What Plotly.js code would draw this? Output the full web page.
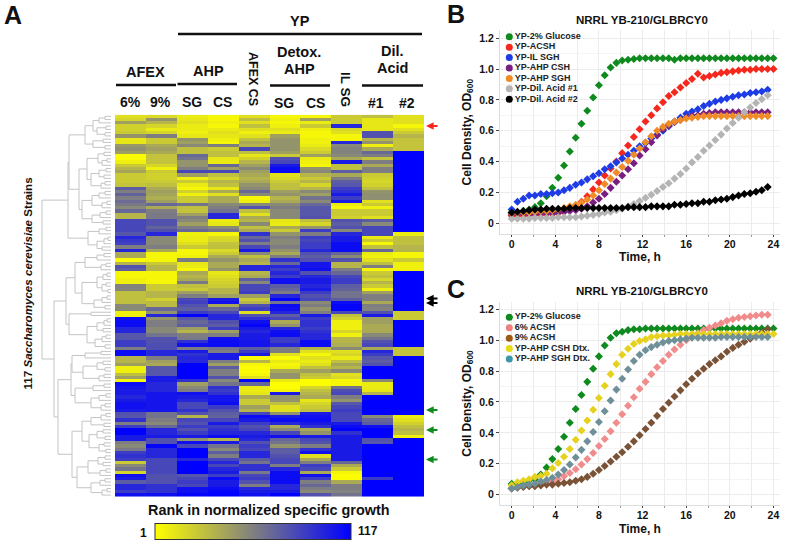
<!DOCTYPE html>
<html>
<head>
<meta charset="utf-8">
<script src="https://cdn.plot.ly/plotly-3.0.1.min.js"></script>
<style>
  html, body { margin: 0; padding: 0; background: #fff; }
  #chart { width: 788px; height: 543px; }
</style>
</head>
<body>
<div id="chart"></div>
<script>
// heatmap: rank of each strain (rows, clustered order) per condition
const conditions = ["AFEX 6%", "AFEX 9%", "AHP SG", "AHP CS", "AFEX CS", "Detox SG", "Detox CS", "IL SG", "Dil #1", "Dil #2"];

const afex6 = [15,20,45,22,22,25,50,12,12,48,
  52,45,3,3,8,25,35,42,25,25,
  25,28,75,60,72,60,68,62,55,70,
  35,35,85,85,85,85,78,100,92,88,
  60,100,40,40,3,35,80,75,5,5,
  8,8,58,58,30,30,30,30,55,55,
  8,8,112,112,112,100,100,78,78,90,
  90,60,112,112,35,35,45,8,8,30,
  45,5,112,108,105,105,100,105,110,110,
  105,80,78,95,60,90,117,117,105,105,
  60,55,62,90,95,90,25,55,65,20,
  110,105,75,100,100,90,110];
const afex9 = [18,50,35,20,10,20,60,25,25,40,
  45,40,28,28,28,20,8,25,22,22,
  25,30,40,45,42,38,45,70,40,60,
  62,62,80,80,72,80,100,55,55,55,
  60,40,5,5,5,25,35,35,5,5,
  5,5,25,25,35,35,22,32,32,70,
  50,100,50,60,60,55,55,65,80,80,
  82,82,100,100,60,45,40,78,78,78,
  105,105,100,100,100,108,108,108,108,108,
  108,65,65,60,55,70,100,100,105,80,
  80,115,100,100,100,85,85,85,85,85,
  80,80,80,95,95,95,110];
const ahpSg = [10,12,15,10,10,8,12,50,45,55,
  30,30,70,65,50,50,60,85,45,8,
  25,10,5,22,8,25,25,65,30,28,
  45,60,55,45,60,70,8,10,10,15,
  25,5,5,8,62,12,10,5,40,35,
  40,62,30,25,45,60,85,88,80,75,
  90,117,78,70,75,45,35,60,62,95,
  110,60,105,95,100,100,117,117,117,117,
  117,95,45,55,60,110,105,100,85,85,
  95,80,35,85,80,90,80,90,105,50,
  110,85,117,117,117,100,117,117,117,117,
  78,85,90,85,110,110,115];
const ahpCs = [5,5,8,5,10,15,12,8,5,60,
  25,30,30,12,10,70,45,85,30,20,
  35,30,12,40,15,40,40,55,60,65,
  100,100,10,12,55,65,5,18,20,28,
  30,18,25,40,50,40,40,50,12,15,
  20,22,25,35,35,45,105,110,40,70,
  85,100,100,80,75,90,45,60,110,112,
  112,65,60,105,105,60,45,75,60,60,
  80,55,65,95,90,95,108,108,112,90,
  80,75,72,85,105,90,95,100,112,35,
  105,65,55,75,60,85,100,85,100,105,
  90,112,105,105,112,115,117];
const afexCs = [15,30,15,30,15,8,15,30,40,35,
  85,30,12,22,35,45,55,45,40,35,
  40,50,55,70,55,5,8,55,80,30,
  15,40,35,55,30,40,95,70,80,60,
  85,105,55,30,40,35,100,100,35,40,
  75,55,85,85,90,45,25,35,80,90,
  15,80,95,110,115,105,100,105,105,108,
  108,75,90,105,3,35,5,3,3,5,
  15,117,70,10,10,12,40,25,25,45,
  35,85,112,105,90,80,85,100,105,100,
  80,90,85,100,100,75,65,95,95,62,
  85,90,80,60,100,105,110];
const detoxSg = [5,8,5,8,15,10,45,50,50,50,
  50,45,25,80,85,105,112,112,15,18,
  25,30,30,45,50,35,40,55,60,55,
  55,55,12,10,40,25,50,60,55,55,
  60,50,40,60,95,70,100,90,100,90,
  110,110,75,70,60,100,115,65,112,110,
  100,75,85,40,50,100,110,112,90,90,
  100,60,60,15,3,10,5,8,40,50,
  50,10,2,2,5,105,50,50,30,15,
  15,50,105,112,100,40,55,85,110,70,
  65,50,75,75,80,85,85,60,100,112,
  112,112,112,100,100,105,117];
const detoxCs = [5,45,10,25,8,5,5,8,8,10,
  18,25,45,10,8,5,50,55,35,25,
  35,20,35,55,45,65,55,70,78,78,
  78,80,30,20,50,90,60,90,85,90,
  90,100,80,75,80,108,108,110,80,100,
  105,105,100,105,90,80,85,55,60,50,
  60,105,90,95,95,90,95,100,100,112,
  112,35,15,5,15,10,15,30,45,30,
  25,2,2,20,30,35,40,12,20,25,
  30,105,110,112,105,95,40,50,105,85,
  80,60,95,110,15,40,60,90,85,40,
  110,90,60,70,60,55,80];
const ilSg = [25,25,25,100,18,15,5,5,100,55,
  58,58,55,40,105,30,30,75,40,60,
  75,78,90,95,105,90,105,10,5,25,
  25,22,80,75,80,55,100,105,105,112,
  112,112,70,55,80,35,35,60,70,85,
  90,90,75,72,65,65,75,112,115,115,
  85,30,22,8,8,8,20,8,35,35,
  38,55,15,20,10,30,42,35,55,15,
  18,5,5,65,82,85,60,50,78,85,
  90,85,85,85,105,112,117,95,105,105,
  105,105,105,105,105,105,70,40,25,5,
  2,2,40,60,60,58,65];
const dil1 = [30,12,12,12,12,80,80,35,50,8,
  40,70,60,28,60,40,60,60,25,22,
  20,22,30,50,52,52,15,25,8,25,
  25,15,75,55,85,85,85,10,25,5,
  30,70,10,8,15,30,60,5,25,30,
  20,35,25,8,45,60,60,40,60,58,
  80,105,45,45,40,40,40,55,65,80,
  85,40,100,90,78,75,80,117,117,117,
  117,55,10,10,12,35,117,117,117,117,
  117,117,55,70,75,110,117,117,117,80,
  78,117,117,117,117,117,117,117,117,117,
  117,90,117,117,117,117,117];
const dil2 = [15,15,15,5,15,25,35,28,28,28,
  28,117,117,117,117,117,117,117,117,117,
  117,117,117,117,117,117,117,117,117,117,
  117,117,117,117,117,117,10,30,30,30,
  35,35,5,5,25,8,8,8,117,117,
  117,117,117,117,117,117,117,117,117,117,
  25,25,25,117,117,117,117,117,117,117,
  117,28,28,28,117,117,117,117,117,117,
  117,117,117,117,117,117,117,117,117,117,
  117,117,10,15,22,30,35,30,8,117,
  117,117,117,117,117,117,117,117,117,117,
  117,117,117,117,117,117,117];

const heatColumns = [afex6, afex9, ahpSg, ahpCs, afexCs, detoxSg, detoxCs, ilSg, dil1, dil2];
const rankColors = [[0, "#ffff00"], [0.5, "#808080"], [1, "#0000ff"]];

// dendrogram: [height, child, child], 0 is a leaf (one strain)
const strainTree = [69,
  [43,
    [42,
      [26,
        [18, [12, [6,0,0], 0], [14, [5,0,0], [6,0,0]]],
        [18, [8,0,0], [6,0,0]]],
      [32,
        [24, [13, [7,0,0], [9, [4,0,0], 0]], [20, [12, [5,0,0], [7,0,0]], [10, [6,0,0], 0]]],
        [29, [19, [12, [6,0,0], 0], [9, [4,0,0], 0]], [19, [11, [5,0,0], 0], [8,0,0]]]]],
    [23, [12, [5,0,0], 0], [14, [7, [3,0,0], 0], [9,0,0]]]],
  [57,
    [45,
      [36,
        [26, [14, [7,0,0], 0], [10, [5,0,0], 0]],
        [29, [14, [8, [4,0,0], 0], [9, [5,0,0], [3,0,0]]], [17, [9, [4,0,0], 0], [6,0,0]]]],
      [42,
        [20,0,0],
        [24, [14, [7, [4,0,0], 0], [8,0,0]], [16, [9, [5,0,0], 0], [6,0,0]]]]],
    [53,
      [40,
        [39, [26, [10,0,0], 0], [28, [14, [8,0,0], [6,0,0]], [12, [7,0,0], 0]]],
        [36, [18, [7,0,0], 0], [20, [12, [5,0,0], 0], [10, [6,0,0], 0]]]],
      [39,
        [29, [20, [10, [5,0,0], 0], [7,0,0]], [22, [14, [8,0,0], [6,0,0]], [12, [7,0,0], [5,0,0]]]],
        [34, [23, [13, [6,0,0], [8,0,0]], [11, [5,0,0], 0]], [20, [11, [6,0,0], 0], [9, [4,0,0], 0]]]]]]];

// growth curves, read every 0.53 h
const hours = [0,0.53,1.07,1.6,2.13,2.67,3.2,3.73,4.27,4.8,5.33,5.87,6.4,6.93,7.47,8,8.53,9.07,9.6,10.13,10.67,11.2,11.73,12.27,12.8,13.33,13.87,14.4,14.93,15.47,16,16.53,17.07,17.6,18.13,18.67,19.2,19.73,20.27,20.8,21.33,21.87,22.4,22.93,23.47,24];

const glucoseB = [0.07,0.07,0.08,0.09,0.105,0.13,0.175,0.23,0.295,0.375,0.465,0.555,0.645,0.73,0.815,0.895,0.96,1.01,1.04,1.055,1.06,1.065,1.07,1.07,1.07,1.07,1.07,1.07,1.06,1.07,1.07,1.07,1.07,1.07,1.07,1.07,1.07,1.07,1.07,1.07,1.07,1.07,1.07,1.07,1.07,1.07];
const acsh = [0.05,0.05,0.05,0.055,0.055,0.055,0.06,0.06,0.065,0.075,0.09,0.11,0.14,0.175,0.22,0.265,0.31,0.355,0.4,0.455,0.505,0.56,0.61,0.66,0.7,0.745,0.785,0.825,0.85,0.88,0.91,0.935,0.97,0.945,0.955,0.965,0.975,0.98,0.985,0.99,0.995,0.995,1,1,1,1];
const ilSgh = [0.09,0.14,0.16,0.18,0.18,0.19,0.19,0.195,0.2,0.215,0.23,0.25,0.265,0.285,0.305,0.325,0.35,0.37,0.395,0.42,0.445,0.47,0.5,0.52,0.55,0.575,0.6,0.63,0.66,0.685,0.71,0.725,0.74,0.76,0.775,0.79,0.8,0.81,0.82,0.83,0.835,0.845,0.85,0.855,0.865];
const ahpCsh = [0.06,0.06,0.06,0.06,0.06,0.065,0.065,0.065,0.07,0.075,0.08,0.085,0.095,0.11,0.135,0.16,0.19,0.23,0.27,0.31,0.35,0.39,0.44,0.48,0.525,0.57,0.61,0.635,0.655,0.67,0.685,0.695,0.7,0.71,0.715,0.72,0.72,0.72,0.72,0.72,0.72,0.72,0.72,0.72,0.72];
const ahpSgh = [0.065,0.07,0.07,0.07,0.075,0.08,0.08,0.085,0.09,0.1,0.11,0.12,0.135,0.155,0.18,0.215,0.255,0.29,0.33,0.365,0.405,0.445,0.485,0.525,0.565,0.6,0.625,0.645,0.66,0.67,0.68,0.685,0.69,0.695,0.695,0.695,0.695,0.695,0.695,0.695,0.695,0.695,0.695,0.695,0.695];
const dilAcid1 = [0.03,0.03,0.03,0.03,0.035,0.035,0.035,0.035,0.04,0.04,0.04,0.04,0.045,0.05,0.055,0.06,0.07,0.075,0.085,0.095,0.11,0.125,0.145,0.165,0.185,0.21,0.235,0.26,0.29,0.32,0.355,0.395,0.43,0.47,0.505,0.54,0.575,0.615,0.65,0.685,0.72,0.75,0.78,0.805,0.83];
const dilAcid2 = [0.07,0.075,0.08,0.085,0.09,0.09,0.095,0.095,0.095,0.095,0.1,0.1,0.1,0.1,0.1,0.1,0.1,0.1,0.1,0.1,0.105,0.105,0.105,0.105,0.11,0.11,0.11,0.11,0.12,0.12,0.125,0.13,0.13,0.14,0.14,0.15,0.155,0.16,0.17,0.18,0.19,0.195,0.205,0.215,0.235];

const glucoseC = [0.07,0.07,0.08,0.09,0.1,0.13,0.175,0.23,0.295,0.375,0.465,0.555,0.645,0.73,0.815,0.895,0.965,1.015,1.045,1.055,1.065,1.07,1.07,1.075,1.075,1.075,1.075,1.075,1.075,1.075,1.075,1.075,1.075,1.075,1.075,1.075,1.075,1.075,1.075,1.075,1.075,1.075,1.075,1.075,1.075,1.075];
const acsh6 = [0.04,0.05,0.055,0.06,0.065,0.07,0.075,0.085,0.1,0.12,0.14,0.165,0.195,0.23,0.27,0.315,0.36,0.41,0.465,0.52,0.575,0.63,0.685,0.73,0.78,0.825,0.865,0.905,0.94,0.97,1,1.025,1.045,1.065,1.08,1.095,1.11,1.125,1.135,1.145,1.15,1.155,1.16,1.165,1.165];
const acsh9 = [0.04,0.045,0.05,0.055,0.055,0.06,0.065,0.065,0.07,0.075,0.08,0.09,0.1,0.115,0.135,0.16,0.185,0.215,0.245,0.275,0.31,0.345,0.385,0.425,0.465,0.51,0.555,0.595,0.635,0.675,0.715,0.75,0.785,0.815,0.845,0.87,0.895,0.925,0.95,0.97,0.99,1.01,1.03,1.05,1.07];
const cshDtx = [0.06,0.08,0.09,0.1,0.115,0.12,0.135,0.17,0.205,0.245,0.295,0.355,0.415,0.48,0.55,0.625,0.705,0.78,0.845,0.905,0.945,0.975,0.995,1.005,1.02,1.025,1.03,1.03,1.035,1.04,1.04,1.04,1.04,1.04,1.04,1.04,1.04,1.04,1.04,1.04,1.04,1.04,1.04,1.04,1.04,1.04];
const sghDtx = [0.04,0.05,0.06,0.065,0.07,0.085,0.095,0.11,0.13,0.16,0.195,0.24,0.29,0.345,0.405,0.47,0.54,0.61,0.68,0.75,0.81,0.865,0.905,0.935,0.955,0.97,0.985,0.995,1,1.005,1.01,1.015,1.015,1.015,1.015,1.015,1.02,1.02,1.02,1.02,1.02,1.02,1.02,1.02,1.02];

const timeTicks = [0, 4, 8, 12, 16, 20, 24];
const odTicks = [0, 0.2, 0.4, 0.6, 0.8, 1, 1.2];
const odLabels = ["0", "0.2", "0.4", "0.6", "0.8", "1.0", "1.2"];

const panelBNames = ["YP-2% Glucose", "YP-ACSH", "YP-IL SGH", "YP-AHP CSH", "YP-AHP SGH", "YP-Dil. Acid #1", "YP-Dil. Acid #2"];
const panelBValues = [glucoseB, acsh, ilSgh, ahpCsh, ahpSgh, dilAcid1, dilAcid2];
const panelBColors = ["#0f8a1e", "#f5281e", "#1e3ce6", "#7a1f82", "#f08c28", "#b4b4b4", "#000000"];

const panelCNames = ["YP-2% Glucose", "6% ACSH", "9% ACSH", "YP-AHP CSH Dtx.", "YP-AHP SGH Dtx."];
const panelCValues = [glucoseC, acsh6, acsh9, cshDtx, sghDtx];
const panelCColors = ["#0f8a1e", "#f08c8c", "#7a5236", "#e6d21e", "#6f9098"];
const panelCLegendColors = ["#0f8a1e", "#f08080", "#9c5a14", "#e6dc14", "#3c96aa"];

const W = 788, H = 543;
const FONT = "Liberation Sans, Arial, sans-serif";

function px(x) { return x / W; }
function py(y) { return 1 - y / H; }

function buildDendrogram(tree) {
  const xs = [], ys = [];
  let nextLeaf = 0;
  function walk(node) {
    if (node === 0) return { h: 0, y: nextLeaf++ };
    const a = walk(node[1]);
    const b = walk(node[2]);
    const h = node[0];
    xs.push(a.h, h, h, b.h, null);
    ys.push(a.y, a.y, b.y, b.y, null);
    return { h: h, y: (a.y + b.y) / 2 };
  }
  walk(tree);
  return { x: xs, y: ys };
}

function curveTraces(names, values, colors, xa, ya) {
  return names.map((name, i) => ({
    type: "scatter", mode: "markers", name: name,
    x: hours.slice(0, values[i].length), y: values[i],
    xaxis: xa, yaxis: ya, showlegend: false,
    marker: { symbol: "diamond", size: 6.2, color: colors[i] }
  }));
}

function legendTrace(names, colors, xa, ya) {
  return {
    type: "scatter", mode: "markers+text", cliponaxis: false,
    x: names.map(() => 0), y: names.map((n, i) => i),
    text: names, textposition: "middle right",
    textfont: { family: FONT, size: 9, color: "#222", weight: "bold" },
    xaxis: xa, yaxis: ya, showlegend: false,
    marker: { symbol: "circle", size: 7, color: colors }
  };
}

function chartAxes(left, right, top, bottom, yRange, xStandoff) {
  const grid = "#ececec";
  return {
    x: {
      domain: [px(left), px(right)], range: [-1.07, 24.6],
      tickvals: timeTicks, ticks: "outside", ticklen: 2, tickcolor: "#444", ticklabelstandoff: -2,
      tickfont: { family: FONT, size: 10.5, color: "#111", weight: "bold" },
      title: { text: "<b>Time, h</b>", font: { family: FONT, size: 12, color: "#111" }, standoff: xStandoff },
      showgrid: true, gridcolor: grid, showline: true, linecolor: "#ddd", zeroline: false,
      minor: { dtick: 2, showgrid: true, gridcolor: grid, ticks: "outside", ticklen: 2, tickcolor: "#999" }
    },
    y: {
      domain: [py(bottom), py(top)], range: yRange,
      tickvals: odTicks, ticktext: odLabels, ticks: "outside", ticklen: 3, tickcolor: "#444",
      tickfont: { family: FONT, size: 10.5, color: "#111", weight: "bold" },
      title: { text: "<b>Cell Density, OD<sub>600</sub></b>", font: { family: FONT, size: 12, color: "#111" }, standoff: 5 },
      showgrid: true, gridcolor: grid, showline: true, linecolor: "#ddd", zeroline: false,
      minor: { dtick: 0.1, showgrid: true, gridcolor: "#f4f4f4" }
    }
  };
}

function hiddenAxis(extra) {
  return Object.assign({
    showgrid: false, zeroline: false, showticklabels: false, ticks: "", showline: false, fixedrange: true
  }, extra);
}

function label(text, x, y, size, angle) {
  return {
    text: "<b>" + text + "</b>", xref: "paper", yref: "paper", x: px(x), y: py(y),
    xanchor: "center", yanchor: "middle", showarrow: false, textangle: angle || 0,
    font: { family: FONT, size: size, color: "#111" }
  };
}

function arrow(y, color) {
  return {
    text: "", xref: "paper", yref: "paper", x: px(426), y: py(y),
    ax: 13, ay: 0, axref: "pixel", ayref: "pixel", showarrow: true,
    arrowhead: 2, arrowsize: 0.85, arrowwidth: 1.8, arrowcolor: color
  };
}

function bar(x0, x1, y) {
  return {
    type: "line", xref: "paper", yref: "paper",
    x0: px(x0), x1: px(x1), y0: py(y), y1: py(y),
    line: { color: "#111", width: 2.6 }
  };
}

function drawFigure() {
  const rows = afex6.map((_, r) => heatColumns.map(col => col[r]));
  const dendro = buildDendrogram(strainTree);

  const traces = [
    {
      type: "heatmap", x: conditions, z: rows, zmin: 1, zmax: 117,
      colorscale: rankColors, xaxis: "x", yaxis: "y", hoverongaps: false,
      colorbar: {
        orientation: "h", lenmode: "pixels", len: 196, thicknessmode: "pixels", thickness: 16,
        x: px(253), xanchor: "center", y: py(532), yanchor: "middle", xpad: 0, ypad: 0,
        outlinewidth: 1, outlinecolor: "#333", showticklabels: false, ticks: ""
      }
    },
    {
      type: "scatter", mode: "lines", x: dendro.x, y: dendro.y,
      xaxis: "x2", yaxis: "y2", showlegend: false, hoverinfo: "skip",
      line: { color: "#c4c4c4", width: 1 }
    }
  ].concat(
    curveTraces(panelBNames, panelBValues, panelBColors, "x3", "y3"),
    curveTraces(panelCNames, panelCValues, panelCColors, "x4", "y4"),
    [
      legendTrace(panelBNames, panelBColors, "x5", "y5"),
      legendTrace(panelCNames, panelCLegendColors, "x6", "y6")
    ]
  );

  const axesB = chartAxes(500, 780, 30, 234.3, [-0.071, 1.253], 3);
  const axesC = chartAxes(500, 780, 302, 505, [-0.067, 1.247], 5);

  const layout = {
    width: W, height: H,
    margin: { l: 0, r: 0, t: 0, b: 0, autoexpand: false },
    paper_bgcolor: "#fff", plot_bgcolor: "rgba(0,0,0,0)",
    showlegend: false,
    xaxis: hiddenAxis({ domain: [px(115), px(424)], type: "category" }),
    yaxis: hiddenAxis({ domain: [py(496.7), py(114.7)], range: [116.5, -0.5] }),
    xaxis2: hiddenAxis({ domain: [px(40), px(111)], range: [71, 0], anchor: "y2" }),
    yaxis2: hiddenAxis({ domain: [py(496.7), py(114.7)], range: [116.5, -0.5], anchor: "x2" }),
    xaxis3: Object.assign(axesB.x, { anchor: "y3" }),
    yaxis3: Object.assign(axesB.y, { anchor: "x3" }),
    xaxis4: Object.assign(axesC.x, { anchor: "y4" }),
    yaxis4: Object.assign(axesC.y, { anchor: "x4" }),
    xaxis5: hiddenAxis({ domain: [px(509.3), px(640)], range: [0, 1], anchor: "y5" }),
    yaxis5: hiddenAxis({ domain: [py(104.5), py(31.5)], range: [6.5, -0.5], anchor: "x5" }),
    xaxis6: hiddenAxis({ domain: [px(509.3), px(640)], range: [0, 1], anchor: "y6" }),
    yaxis6: hiddenAxis({ domain: [py(364.3), py(312)], range: [4.5, -0.5], anchor: "x6" }),
    shapes: [bar(178, 422, 34), bar(116, 176, 85), bar(177.5, 237, 84), bar(270, 330, 85.5), bar(362, 423, 85.5)],
    annotations: [
      label("A", 13, 15, 25), label("B", 456, 14, 25), label("C", 456, 289, 25),
      label("YP", 300, 21, 14.5),
      label("AFEX", 145, 72, 14.5), label("AHP", 208, 71, 14.5),
      label("Detox.", 299, 52, 14.5), label("AHP", 299, 69, 14.5),
      label("Dil.", 392, 51, 14.5), label("Acid", 392, 68, 14.5),
      label("6%", 130, 102, 14), label("9%", 160, 102, 14),
      label("SG", 192, 102, 14), label("CS", 222, 102, 14),
      label("AFEX CS", 253, 79, 12.5, 90),
      label("SG", 284, 103, 14), label("CS", 315, 103, 14),
      label("IL SG", 346, 89, 13.5, 90),
      label("#1", 376, 103, 14), label("#2", 407, 103, 14),
      label("117 <i>Saccharomyces cerevisiae</i> Strains", 27, 283.5, 11.6, -90),
      label("Rank in normalized specific growth", 268.5, 510, 14.4),
      label("1", 143, 533, 12), label("117", 368, 531, 12),
      label("NRRL YB-210/GLBRCY0", 642, 20, 11.5),
      label("NRRL YB-210/GLBRCY0", 642, 291, 11.5),
      arrow(126, "#f5281e"), arrow(298.5, "#000"), arrow(303, "#000"),
      arrow(410, "#0f8a1e"), arrow(430, "#0f8a1e"), arrow(459.5, "#0f8a1e")
    ]
  };

  Plotly.newPlot("chart", traces, layout, { displayModeBar: false, responsive: false });
}

document.addEventListener("DOMContentLoaded", drawFigure);
</script>
</body>
</html>
